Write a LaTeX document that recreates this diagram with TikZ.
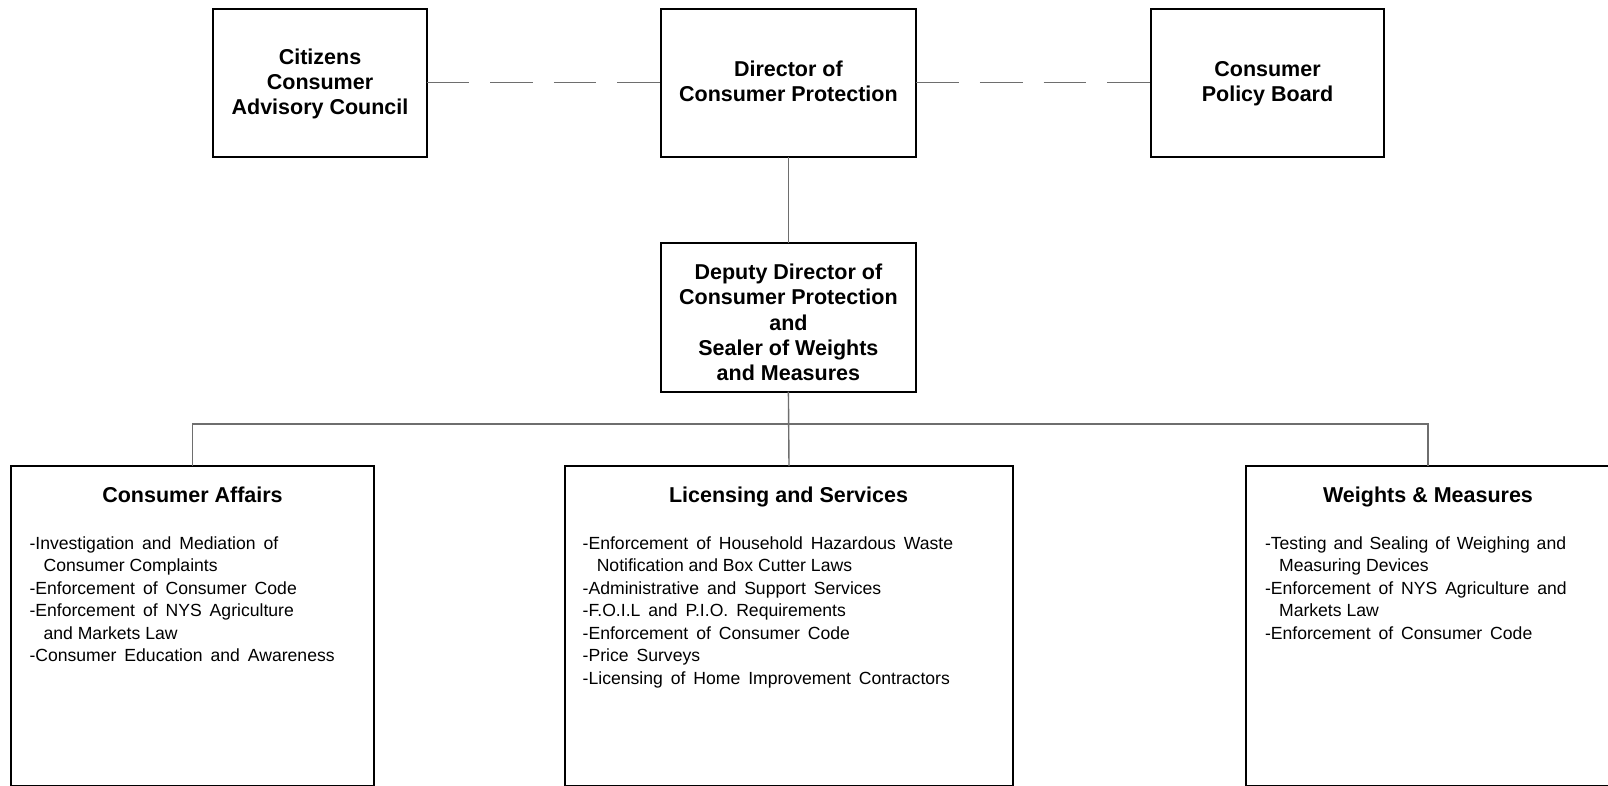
\documentclass[tikz,border=0pt]{standalone}
\usepackage{fontspec}
\setmainfont{Liberation Sans}
\definecolor{linkgray}{HTML}{6E6E6E}
\newcommand\widesp{\spaceskip=0.45em\relax}
\newcommand\midsp{\spaceskip=0.39em\relax}
\newcommand\ind{\hspace*{0.8em}}
\begin{document}
\begin{tikzpicture}[x=1pt,y=-1pt,
  box/.style={draw=black,line width=2pt,rectangle,inner sep=0pt,outer sep=0pt},
  link/.style={draw=linkgray,line width=1.4pt},
  dashlink/.style={link,dash pattern=on 42.6pt off 21pt},
  ttl/.style={inner sep=0pt,outer sep=0pt,anchor=base,font=\fontsize{21.5}{25.3}\selectfont\bfseries},
  body/.style={inner sep=0pt,outer sep=0pt,anchor=base west,font=\fontsize{17.6}{22.5}\selectfont}]
\useasboundingbox (0,0) rectangle (1608,785);
\clip (0,0) rectangle (1608,785);
\fill[white] (0,0) rectangle (1608,785);

% boxes
\node[box,minimum width=213.3pt,minimum height=148.5pt] (cit) at (320,82.75) {};
\node[box,minimum width=255.8pt,minimum height=148.5pt] (dir) at (788.4,82.75) {};
\node[box,minimum width=233.8pt,minimum height=148.5pt] (pol) at (1267.5,82.75) {};
\node[box,minimum width=255.8pt,minimum height=149.2pt] (dep) at (788.4,317.1) {};
\node[box,minimum width=363pt,minimum height=320pt] (ca) at (192.5,626) {};
\node[box,minimum width=448pt,minimum height=320pt] (ls) at (789,626) {};
\node[box,minimum width=364pt,minimum height=320pt] (wm) at (1428,626) {};

% connectors
\draw[dashlink] (cit.east) -- (dir.west);
\draw[dashlink] (dir.east) -- (pol.west);
\draw[link] (dir.south) -- (dep.north);
\draw[link] (dep.south) -- (ls.north);
\coordinate (bus) at (0,424);
\draw[link] (ca.north) -- (ca.north |- bus) -- (wm.north |- bus) -- (wm.north);

% top texts
\node[ttl] (citT) at (320,64) {\begin{tabular}[t]{@{}c@{}}Citizens\\Consumer\\Advisory Council\end{tabular}};
\node[ttl] (dirT) at (788.4,76.5) {\begin{tabular}[t]{@{}c@{}}Director of\\Consumer Protection\end{tabular}};
\node[ttl] (polT) at (1267.5,76.3) {\begin{tabular}[t]{@{}c@{}}Consumer\\Policy Board\end{tabular}};
\node[ttl] (depT) at (788.4,279.5) {\begin{tabular}[t]{@{}c@{}}Deputy Director of\\Consumer Protection\\and\\Sealer of Weights\\and Measures\end{tabular}};

% bottom titles
\node[ttl] (caT) at (192.5,502.5) {Consumer Affairs};
\node[ttl] (lsT) at (788.5,502.5) {Licensing and Services};
\node[ttl] (wmT) at (1428,502.5) {Weights \& Measures};

% bottom lists
\node[body] (caL) at (29.5,549) {\begin{tabular}[t]{@{}l@{}}
\widesp-Investigation and Mediation of\\
\ind Consumer Complaints\\
\widesp-Enforcement of Consumer Code\\
\widesp-Enforcement of NYS Agriculture\\
\ind and Markets Law\\
\widesp-Consumer Education and Awareness
\end{tabular}};
\node[body] (lsL) at (582.7,549) {\begin{tabular}[t]{@{}l@{}}
\widesp-Enforcement of Household Hazardous Waste\\
\ind Notification and Box Cutter Laws\\
\widesp-Administrative and Support Services\\
\widesp-F.O.I.L and P.I.O. Requirements\\
\widesp-Enforcement of Consumer Code\\
\widesp-Price Surveys\\
\widesp-Licensing of Home Improvement Contractors
\end{tabular}};
\node[body] (wmL) at (1265,549) {\begin{tabular}[t]{@{}l@{}}
\midsp-Testing and Sealing of Weighing and\\
\ind Measuring Devices\\
\widesp-Enforcement of NYS Agriculture and\\
\ind Markets Law\\
\widesp-Enforcement of Consumer Code
\end{tabular}};
\end{tikzpicture}
\end{document}
